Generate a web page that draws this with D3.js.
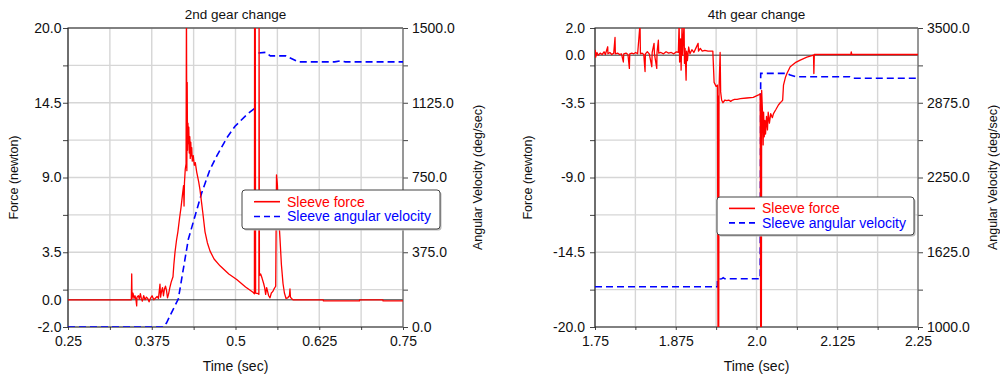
<!DOCTYPE html>
<html>
<head>
<meta charset="utf-8">
<script src="https://cdn.jsdelivr.net/npm/d3@7"></script>
<style>
  body { margin: 0; background: #fff; }
  svg { display: block; font-family: "Liberation Sans", Arial, sans-serif; }
</style>
</head>
<body>
<svg class="charts" width="1000" height="379"></svg>
<script>
// ---- 2nd gear change ----
const gear2ForceTime = [0.25, 0.3445, 0.3451, 0.3456, 0.347, 0.3485, 0.35, 0.3515, 0.3525, 0.353, 0.355, 0.3565, 0.358, 0.3595, 0.361, 0.363, 0.365, 0.367, 0.369, 0.371, 0.373, 0.3755, 0.378, 0.38, 0.383, 0.385, 0.3873, 0.3882, 0.3895, 0.391, 0.3925, 0.394, 0.3955, 0.397, 0.3985, 0.4, 0.402, 0.404, 0.4067, 0.408, 0.4097, 0.412, 0.414, 0.4165, 0.4187, 0.421, 0.4225, 0.4232, 0.4238, 0.425, 0.4262, 0.4268, 0.4274, 0.4279, 0.4284, 0.429, 0.4296, 0.4303, 0.431, 0.4318, 0.4325, 0.4333, 0.434, 0.4347, 0.4355, 0.437, 0.4385, 0.44, 0.4421, 0.445, 0.447, 0.449, 0.451, 0.4545, 0.458, 0.4619, 0.468, 0.4769, 0.49, 0.5018, 0.515, 0.5261, 0.5282, 0.5285, 0.529, 0.5295, 0.53, 0.534, 0.5349, 0.5352, 0.5357, 0.5375, 0.5396, 0.542, 0.5435, 0.545, 0.5465, 0.548, 0.5495, 0.5515, 0.5535, 0.5555, 0.5575, 0.56, 0.5612, 0.5625, 0.564, 0.5664, 0.5685, 0.5709, 0.573, 0.5754, 0.578, 0.5805, 0.5813, 0.582, 0.5835, 0.5858, 0.631, 0.6312, 0.685, 0.6852, 0.72, 0.7202, 0.75];
const gear2Force = [0, 0, 1.9, 0.1, 0.5, 0.1, 0.3, 0.0, -0.45, 0.2, 0.3, 0.05, 0.45, 0.1, -0.1, 0.3, 0.0, 0.2, 0.1, -0.15, 0.1, 0.3, 0.0, 0.1, 0.25, 0.1, 1.15, 0.2, 0.6, 0.9, 0.3, 0.8, 1.0, 0.7, 0.15, 0.4, 0.9, 1.3, 1.7, 2.6, 3.5, 4.4, 5.0, 6.0, 6.8, 7.8, 8.4, 6.9, 8.6, 9.6, 10.0, 22, 9.5, 16, 11, 13, 11.5, 12.7, 10.8, 12, 10.4, 11.6, 10.6, 11.2, 10.2, 10.6, 9.9, 10.1, 9.4, 8.7, 8.1, 7.3, 6.5, 5.0, 4.2, 3.6, 3.0, 2.5, 1.9, 1.5, 0.95, 0.55, 0.45, 22, 0.5, 22, 0.5, 0.45, 0.4, 22, 1.8, 1.9, 1.6, 1.2, 0.9, 0.4, 0.9, 0.6, 0.3, 0.15, 0.5, 0.6, 0.8, 1.0, 9.2, 8.5, 6.5, 4.5, 2.6, 1.2, 0.5, 0.1, 0.15, 0.3, 0.8, 0.2, 0.1, 0, 0, -0.08, -0.08, 0, 0, -0.08, -0.08];
const gear2VelTime = [0.25, 0.392, 0.397, 0.402, 0.4146, 0.4221, 0.4296, 0.4396, 0.4496, 0.4619, 0.4719, 0.4869, 0.4993, 0.5167, 0.5291, 0.5292, 0.545, 0.552, 0.5755, 0.5935, 0.648, 0.656, 0.664, 0.75];
const gear2Velocity = [0, 0, 20, 55, 140, 290, 440, 557, 673, 790, 857, 948, 1007, 1065, 1098, 1373, 1378, 1360, 1360, 1330, 1330, 1335, 1330, 1330];

const gear2TimeTicks = [0.25, 0.375, 0.5, 0.625, 0.75];
const gear2TimeLabels = ['0.25', '0.375', '0.5', '0.625', '0.75'];
const gear2ForceTicks = [20, 14.5, 9, 3.5, 0, -2];
const gear2VelTicks = [1500, 1125, 750, 375, 0];

// ---- 4th gear change ----
const gear4ForceTime = [1.75, 1.7505, 1.751, 1.753, 1.755, 1.758, 1.761, 1.764, 1.766, 1.7697, 1.77, 1.773, 1.776, 1.779, 1.781, 1.7815, 1.785, 1.788, 1.791, 1.7939, 1.7945, 1.798, 1.801, 1.8032, 1.8038, 1.807, 1.81, 1.813, 1.816, 1.8197, 1.8203, 1.823, 1.8255, 1.8275, 1.828, 1.831, 1.834, 1.8379, 1.8385, 1.8414, 1.842, 1.8456, 1.846, 1.8481, 1.8487, 1.852, 1.856, 1.86, 1.864, 1.868, 1.872, 1.876, 1.879, 1.8802, 1.881, 1.8825, 1.8833, 1.8848, 1.8855, 1.8865, 1.8879, 1.8885, 1.8895, 1.891, 1.8918, 1.893, 1.895, 1.897, 1.9, 1.903, 1.906, 1.9096, 1.9102, 1.913, 1.916, 1.92, 1.925, 1.9324, 1.9344, 1.9375, 1.9395, 1.9405, 1.941, 1.9415, 1.942, 1.9437, 1.9445, 1.946, 1.948, 1.951, 1.954, 1.957, 1.96, 1.963, 1.966, 1.97, 1.975, 1.985, 1.995, 2.004, 2.0057, 2.0065, 2.007, 2.0075, 2.008, 2.0095, 2.0103, 2.011, 2.012, 2.013, 2.014, 2.0155, 2.017, 2.0181, 2.02, 2.022, 2.0245, 2.0263, 2.03, 2.0335, 2.0367, 2.039, 2.0405, 2.0418, 2.045, 2.0471, 2.0522, 2.06, 2.0677, 2.078, 2.0883, 2.0888, 2.0895, 2.146, 2.1467, 2.1475, 2.25];
const gear4Force = [0.1, 0.35, -0.15, 0.2, 0.0, 0.15, 0.05, 0.25, 0.05, 0.62, 0.1, 0.2, 0.05, 0.15, 1.3, 0.1, 0.15, 0.05, 0.1, -0.5, 0.1, 0.15, 0.05, -0.97, 0.1, 0.15, 0.1, 0.2, 0.1, 2.3, 0.1, 0.15, 0.05, -1.2, 0.1, 0.25, 0.1, -0.85, 0.2, 0.87, 0.1, -0.97, 0.2, 1.1, 0.15, 0.2, 0.1, 0.25, 0.15, 0.2, 0.1, 0.25, 0.2, 2.3, -0.5, 1.2, -1.1, 2.3, 0.0, 1.0, 2.3, -0.6, 0.5, -1.84, 0.3, -0.4, 0.6, 0.1, 0.4, 0.2, 0.5, 0.87, 0.3, 0.5, 0.3, 0.35, 0.3, 0.3, -2.0, -2.3, -2.2, -22, -3, -22, -2.5, 0.2, -2.7, -3.3, -3.5, -3.3, -3.35, -3.3, -3.4, -3.3, -3.25, -3.25, -3.2, -3.15, -3.1, -2.9, -2.85, -22, -3, -22, -2.6, -4.5, -6.6, -4.2, -6.0, -4.8, -5.8, -4.5, -5.5, -4.2, -5.0, -4.3, -4.6, -4.3, -4.0, -3.7, -3.5, -3.4, -3.3, -2.2, -1.6, -1.35, -0.85, -0.55, -0.36, -0.15, 0.0, -1.35, 0.05, 0.05, 0.25, 0.05, 0.05];
const gear4VelTime = [1.75, 1.9395, 1.9396, 1.946, 1.9485, 1.951, 2.0057, 2.0065, 2.047, 2.0522, 2.0603, 2.1445, 2.1497, 2.25];
const gear4Velocity = [1337, 1337, 1401, 1403, 1412, 1403, 1403, 3121, 3121, 3107, 3093, 3093, 3080, 3080];

const gear4TimeTicks = [1.75, 1.875, 2.0, 2.125, 2.25];
const gear4TimeLabels = ['1.75', '1.875', '2.0', '2.125', '2.25'];
const gear4ForceTicks = [2, 0, -3.5, -9, -14.5, -20];
const gear4VelTicks = [3500, 2875, 2250, 1625, 1000];

const legendNames = ['Sleeve force', 'Sleeve angular velocity'];

const forceColor = '#ff0000';
const velColor = '#0000ff';
const gridColor = '#d6d6d6';

const svg = d3.select('svg.charts');

drawChart('gear2', {
    left: 68, right: 403, top: 28, bottom: 327,
    title: '2nd gear change',
    timeDomain: [0.25, 0.75], forceDomain: [-2, 20], velDomain: [0, 1500],
    timeTicks: gear2TimeTicks, timeLabels: gear2TimeLabels,
    forceTicks: gear2ForceTicks, velTicks: gear2VelTicks,
    forceTime: gear2ForceTime, force: gear2Force,
    velTime: gear2VelTime, velocity: gear2Velocity,
    forceTitleX: 13.5, velTitleX: 477.5, labelGap: 6.5,
    legend: { x: 242, y: 190, w: 198, h: 39 }
});

drawChart('gear4', {
    left: 595, right: 918, top: 28, bottom: 327,
    title: '4th gear change',
    timeDomain: [1.75, 2.25], forceDomain: [-20, 2], velDomain: [1000, 3500],
    timeTicks: gear4TimeTicks, timeLabels: gear4TimeLabels,
    forceTicks: gear4ForceTicks, velTicks: gear4VelTicks,
    forceTime: gear4ForceTime, force: gear4Force,
    velTime: gear4VelTime, velocity: gear4Velocity,
    forceTitleX: 528, velTitleX: 992.5, labelGap: 10,
    legend: { x: 717, y: 197, w: 197, h: 38 }
});

function drawChart(id, c) {
    const x = d3.scaleLinear().domain(c.timeDomain).range([c.left, c.right]);
    const yF = d3.scaleLinear().domain(c.forceDomain).range([c.bottom, c.top]);
    const yV = d3.scaleLinear().domain(c.velDomain).range([c.bottom, c.top]);

    const g = svg.append('g').attr('id', id);

    // grid every 1/16 sec and every 2.75 newton
    const xGrid = d3.range(c.timeDomain[0], c.timeDomain[1] + 1e-9, 0.0625);
    const yGrid = d3.range(c.forceDomain[0], c.forceDomain[1] + 1e-9, 2.75);

    g.append('g').selectAll('line').data(xGrid).join('line')
        .attr('x1', d => x(d)).attr('x2', d => x(d))
        .attr('y1', c.top).attr('y2', c.bottom)
        .attr('stroke', gridColor).attr('stroke-width', 1.4);

    g.append('g').selectAll('line').data(yGrid).join('line')
        .attr('x1', c.left).attr('x2', c.right)
        .attr('y1', d => yF(d)).attr('y2', d => yF(d))
        .attr('stroke', gridColor).attr('stroke-width', 1.4);

    g.append('line')
        .attr('x1', c.left).attr('x2', c.right)
        .attr('y1', yF(0)).attr('y2', yF(0))
        .attr('stroke', '#333').attr('stroke-width', 1);

    // tick marks
    const tickAxes = [
        [d3.axisBottom(x).tickValues(xGrid).tickSize(3), `translate(0,${c.bottom})`],
        [d3.axisLeft(yF).tickValues(yGrid).tickSize(5), `translate(${c.left},0)`],
        [d3.axisRight(yF).tickValues(yGrid).tickSize(5), `translate(${c.right},0)`]
    ];
    tickAxes.forEach(([axis, tr]) => {
        const a = g.append('g').attr('transform', tr).call(axis.tickFormat(''));
        a.select('.domain').remove();
        a.selectAll('line').attr('stroke', '#444');
    });

    // tick labels
    const labelAxes = [
        [d3.axisBottom(x).tickValues(c.timeTicks).tickPadding(9)
            .tickFormat((d, i) => c.timeLabels[i]), `translate(0,${c.bottom})`],
        [d3.axisLeft(yF).tickValues(c.forceTicks).tickPadding(c.labelGap)
            .tickFormat(d => d.toFixed(1)), `translate(${c.left},0)`],
        [d3.axisRight(yV).tickValues(c.velTicks).tickPadding(9)
            .tickFormat(d => d.toFixed(1)), `translate(${c.right},0)`]
    ];
    labelAxes.forEach(([axis, tr]) => {
        const a = g.append('g').attr('transform', tr).call(axis.tickSize(0));
        a.attr('font-family', null).attr('font-size', null);
        a.select('.domain').remove();
        a.selectAll('text').style('font-size', '14px').attr('fill', '#111');
    });

    // frame
    g.append('path')
        .attr('d', `M${c.right},${c.top}H${c.left}V${c.bottom}H${c.right}`)
        .attr('fill', 'none').attr('stroke', '#222').attr('stroke-width', 1.2);
    g.append('line')
        .attr('x1', c.right).attr('x2', c.right).attr('y1', c.top).attr('y2', c.bottom)
        .attr('stroke', '#666').attr('stroke-width', 1.2);

    // data lines
    g.append('clipPath').attr('id', id + '-clip')
        .append('rect')
        .attr('x', c.left).attr('y', c.top)
        .attr('width', c.right - c.left).attr('height', c.bottom - c.top);

    const plot = g.append('g').attr('clip-path', `url(#${id}-clip)`);

    const forceLine = d3.line().x(d => x(d[0])).y(d => yF(d[1]));
    const velLine = d3.line().x(d => x(d[0])).y(d => yV(d[1]));

    plot.append('path')
        .attr('d', velLine(d3.zip(c.velTime, c.velocity)))
        .attr('fill', 'none').attr('stroke', velColor)
        .attr('stroke-width', 1.6).attr('stroke-dasharray', '7,4');

    plot.append('path')
        .attr('d', forceLine(d3.zip(c.forceTime, c.force)))
        .attr('fill', 'none').attr('stroke', forceColor)
        .attr('stroke-width', 1.3).attr('stroke-linejoin', 'round');

    // titles
    const mid = (c.top + c.bottom) / 2;
    g.append('text')
        .attr('x', (c.left + c.right) / 2).attr('y', 18.5)
        .attr('text-anchor', 'middle').style('font-size', '13.5px').attr('fill', '#111')
        .text(c.title);
    g.append('text')
        .attr('x', (c.left + c.right) / 2).attr('y', 371)
        .attr('text-anchor', 'middle').style('font-size', '14px').attr('fill', '#111')
        .text('Time (sec)');
    g.append('text')
        .attr('transform', `translate(${c.forceTitleX},${mid}) rotate(-90)`)
        .attr('text-anchor', 'middle').attr('dy', '0.35em')
        .style('font-size', '12.5px').attr('fill', '#111')
        .text('Force (newton)');
    g.append('text')
        .attr('transform', `translate(${c.velTitleX},${mid}) rotate(-90)`)
        .attr('text-anchor', 'middle').attr('dy', '0.35em')
        .style('font-size', '12.5px').attr('fill', '#111')
        .text('Angular Velocity (deg/sec)');

    // legend
    const lg = g.append('g').attr('transform', `translate(${c.legend.x},${c.legend.y})`);
    lg.append('rect')
        .attr('x', 1.5).attr('y', 1.5)
        .attr('width', c.legend.w).attr('height', c.legend.h).attr('rx', 3)
        .attr('fill', '#bbb');
    lg.append('rect')
        .attr('width', c.legend.w).attr('height', c.legend.h).attr('rx', 3)
        .attr('fill', '#fff').attr('stroke', '#444').attr('stroke-width', 1);

    const rowY = [c.legend.h * 0.3, c.legend.h * 0.68];
    const colors = [forceColor, velColor];
    legendNames.forEach((name, i) => {
        lg.append('line')
            .attr('x1', 12).attr('x2', 38)
            .attr('y1', rowY[i]).attr('y2', rowY[i])
            .attr('stroke', colors[i]).attr('stroke-width', 1.6)
            .attr('stroke-dasharray', i === 1 ? '6,4' : null);
        lg.append('text')
            .attr('x', 45).attr('y', rowY[i]).attr('dy', '0.35em')
            .style('font-size', '14px').attr('fill', colors[i])
            .text(name);
    });
}
</script>
</body>
</html>
